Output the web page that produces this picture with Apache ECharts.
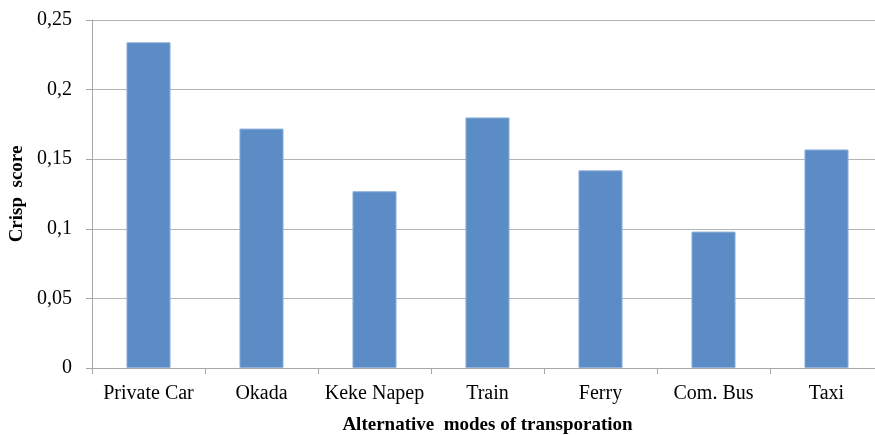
<!DOCTYPE html>
<html>
<head>
<meta charset="utf-8">
<script src="https://cdn.jsdelivr.net/npm/echarts@6/dist/echarts.min.js"></script>
<style>
  html, body { margin: 0; padding: 0; background: #fff; }
  #chart { width: 875px; height: 435px; }
</style>
</head>
<body>
<div id="chart"></div>
<script>
// Transport modes and their crisp scores
const categories = ['Private Car', 'Okada', 'Keke Napep', 'Train', 'Ferry', 'Com. Bus', 'Taxi'];
const crispScores = [0.234, 0.172, 0.127, 0.18, 0.142, 0.098, 0.157];
const yTicks = [0, 0.05, 0.1, 0.15, 0.2, 0.25];

const serif = '"Liberation Serif", "Times New Roman", serif';
const chart = echarts.init(document.getElementById('chart'));

chart.setOption({
  animation: false,
  grid: { left: 92, right: -8, top: 20, bottom: 67, containLabel: false, outerBoundsMode: 'none' },
  xAxis: {
    type: 'category',
    data: categories,
    name: 'Alternative  modes of transporation',
    nameLocation: 'middle',
    nameGap: 48,
    nameTextStyle: { fontFamily: serif, fontSize: 19, fontWeight: 'bold', color: '#000' },
    axisLine: { lineStyle: { color: '#a6a6a6', width: 1 } },
    axisTick: { show: true, length: 6, alignWithLabel: false, lineStyle: { color: '#a6a6a6' } },
    axisLabel: { fontFamily: serif, fontSize: 20, color: '#000', margin: 16, interval: 0 }
  },
  yAxis: {
    type: 'value',
    min: yTicks[0],
    max: yTicks[yTicks.length - 1],
    interval: yTicks[1] - yTicks[0],
    name: 'Crisp  score',
    nameLocation: 'middle',
    nameGap: 65,
    nameRotate: 90,
    nameTextStyle: { fontFamily: serif, fontSize: 19, fontWeight: 'bold', color: '#000' },
    axisLine: { show: true, lineStyle: { color: '#a6a6a6', width: 1 } },
    axisTick: { show: true, length: 6, lineStyle: { color: '#a6a6a6' } },
    splitLine: { lineStyle: { color: '#b4b4b4', width: 1 } },
    axisLabel: {
      fontFamily: serif, fontSize: 20, color: '#000', margin: 20,
      formatter: v => String(Math.round(v * 100) / 100).replace('.', ',')
    }
  },
  series: [{
    type: 'bar',
    data: crispScores,
    barWidth: '39%',
    itemStyle: { color: '#5b8cc6', borderColor: '#8fb1da', borderWidth: 1 }
  }]
});
</script>
</body>
</html>
